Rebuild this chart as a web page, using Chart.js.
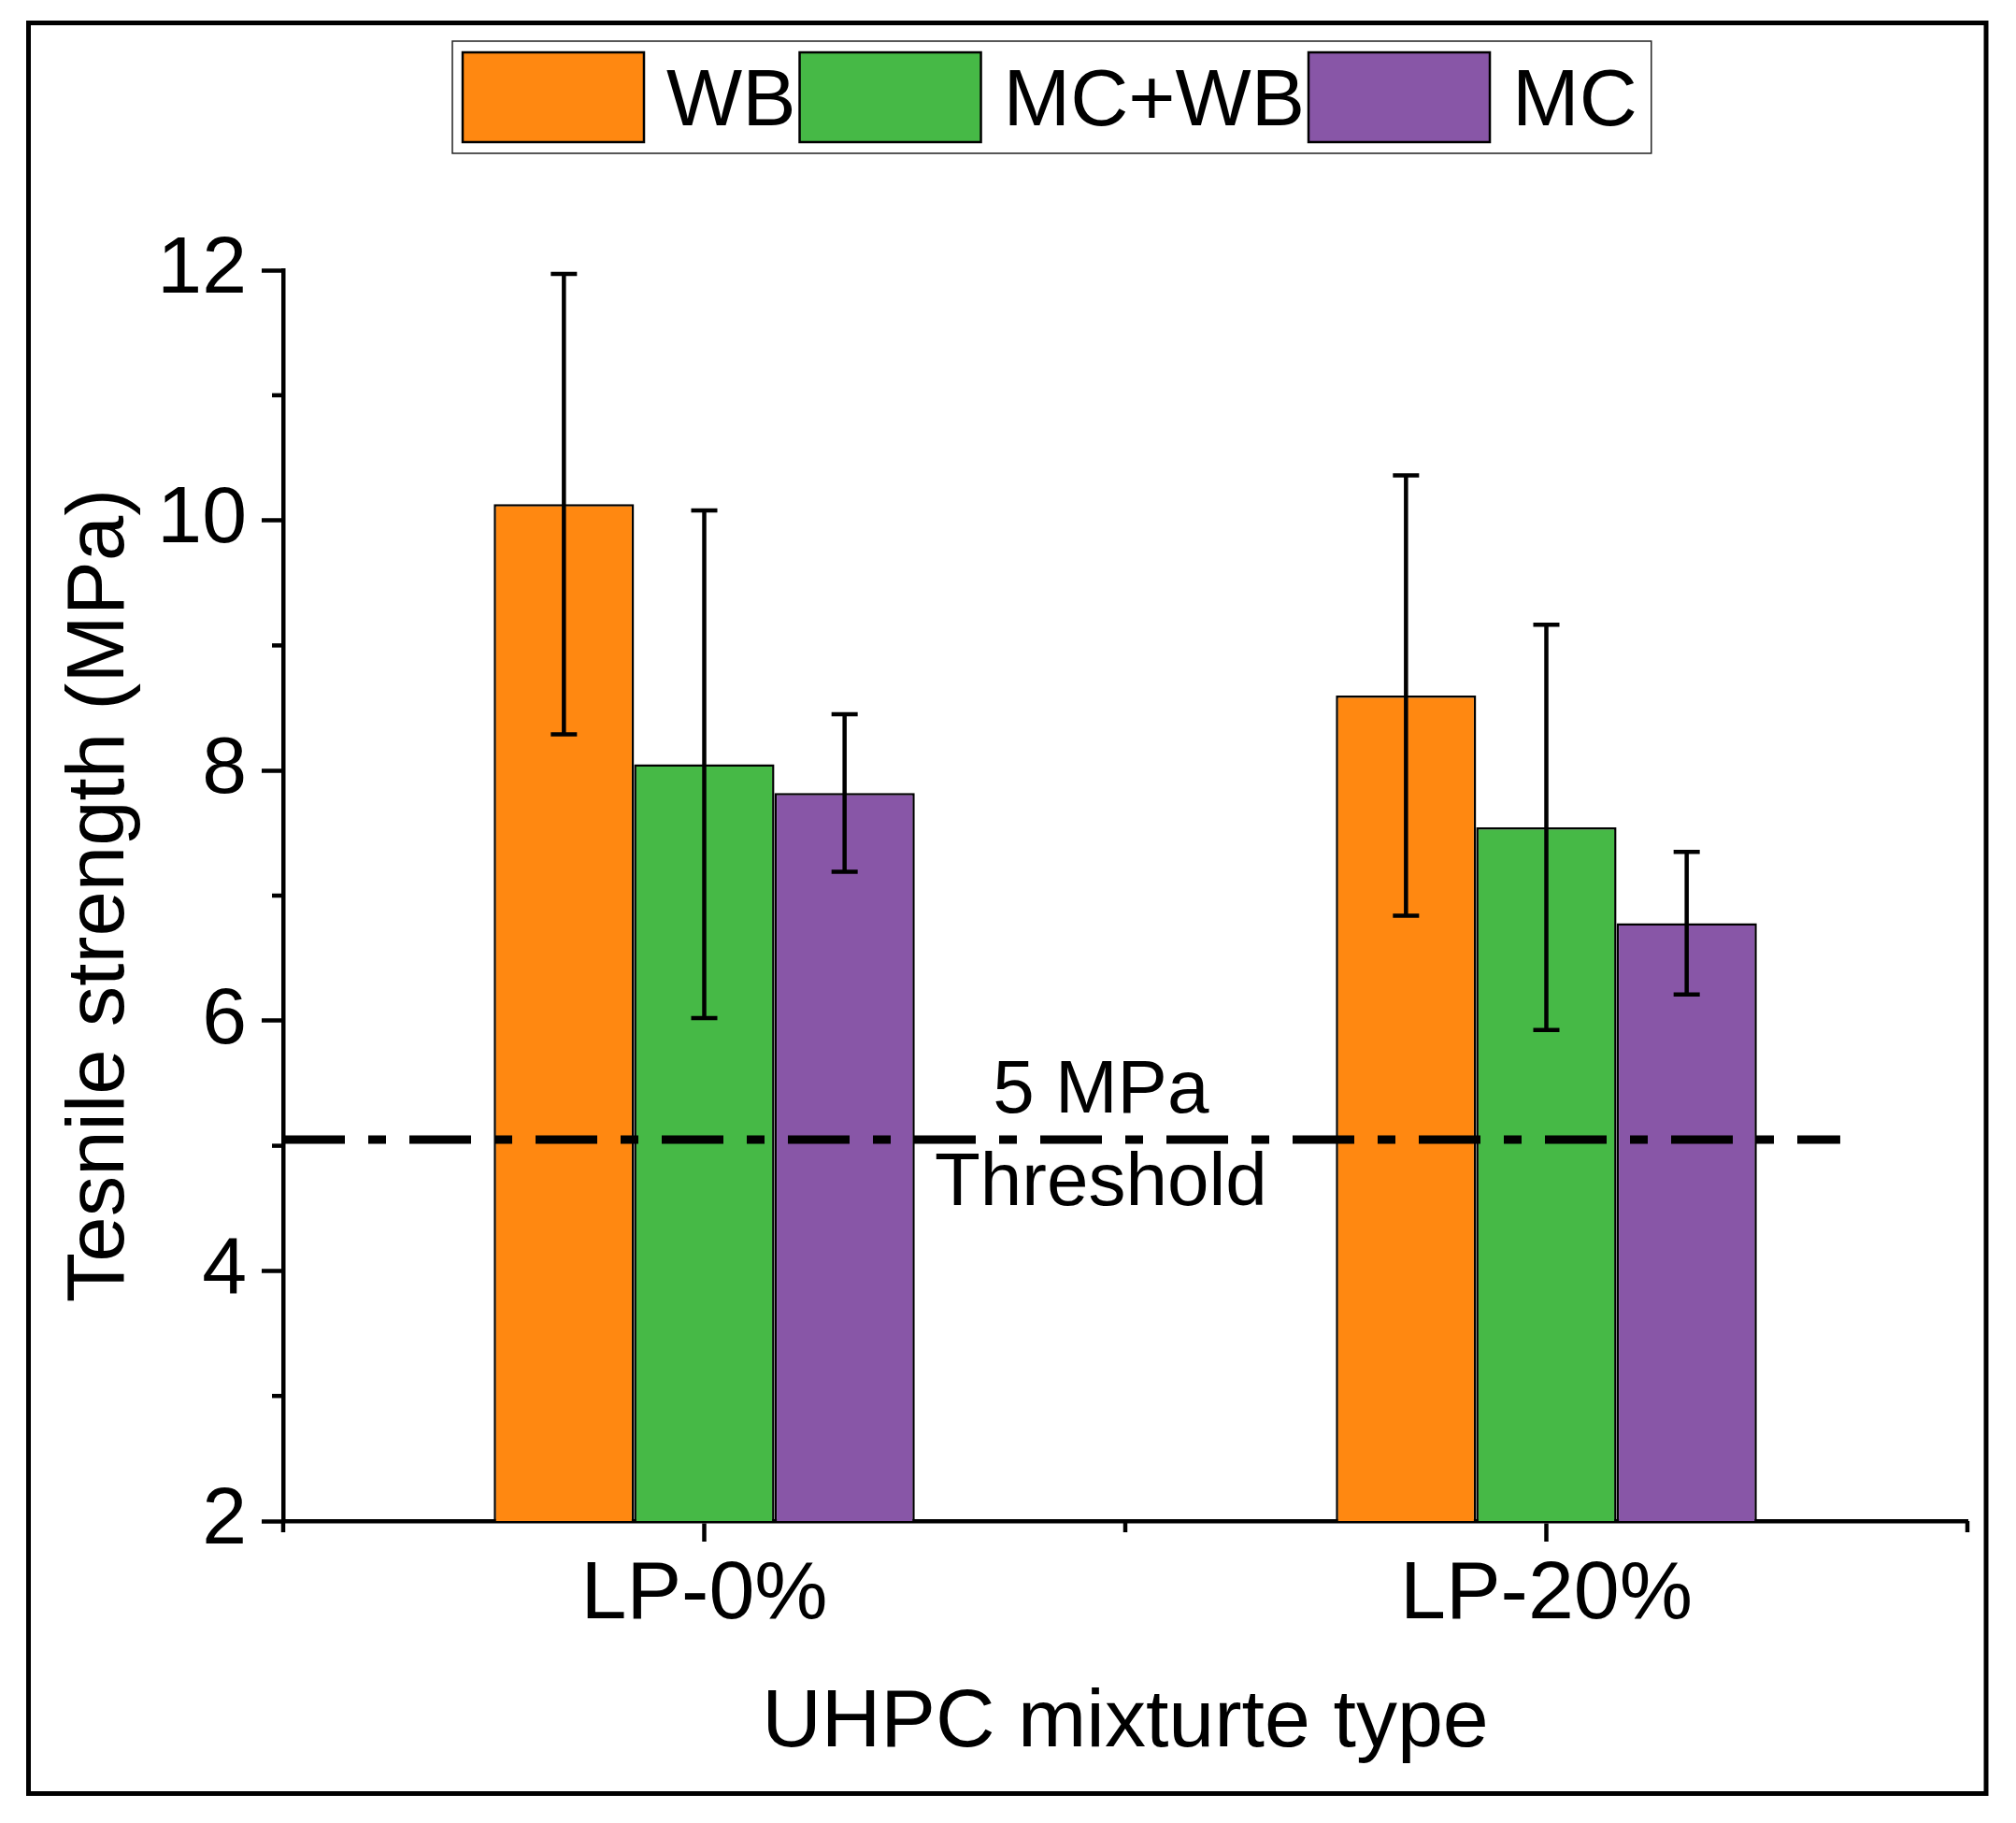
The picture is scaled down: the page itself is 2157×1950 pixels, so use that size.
<!DOCTYPE html>
<html>
<head>
<meta charset="utf-8">
<script src="https://cdn.jsdelivr.net/npm/chart.js@4.4.1/dist/chart.umd.min.js"></script>
<style>
  html, body { margin: 0; padding: 0; background: #ffffff; }
  #wrap { width: 2157px; height: 1950px; }
</style>
</head>
<body>
<div id="wrap"><canvas id="c" width="2157" height="1950"></canvas></div>
<script>
// ---------- data ----------
const categories = ['LP-0%', 'LP-20%'];
const seriesNames = ['WB', 'MC+WB', 'MC'];
const wbValues   = [10.13, 8.60];
const mcwbValues = [8.05, 7.545];
const mcValues   = [7.82, 6.78];
const wbSD   = [1.84, 1.76];
const mcwbSD = [2.03, 1.62];
const mcSD   = [0.63, 0.57];
const yMin = 2, yMax = 12, yStep = 2;
const thresholdValue = 5.05;
const thresholdSpan = [-0.5, 1.349];      // category-axis extent of the threshold line
const thresholdLabelAt = 0.471;           // category-axis position of the label
const thresholdLabels = ['5 MPa', 'Threshold'];
const xTitle = 'UHPC mixturte type';
const yTitle = 'Tesnile strength (MPa)';

// ---------- style ----------
const FONT = "'Liberation Sans', Arial, Helvetica, sans-serif";
const colors = ['#FF8811', '#46B946', '#8856A7'];
const values = [wbValues, mcwbValues, mcValues];
const sds = [wbSD, mcwbSD, mcSD];

Chart.defaults.font.family = FONT;
Chart.defaults.color = '#000';

const frameAndLegend = {
  id: 'frameAndLegend',
  afterDraw(chart) {
    const ctx = chart.ctx;
    ctx.save();
    // outer frame
    ctx.strokeStyle = '#000';
    ctx.lineWidth = 5;
    ctx.strokeRect(30.5, 24.5, 2094.5, 1894);
    // legend
    const boxL = 484, boxT = 44, boxH = 120;
    const swW = 194, swH = 96, swT = 56, textGap = 24, itemGap = 4, padL = 11, padR = 15;
    ctx.font = '86px ' + FONT;
    let x = boxL + padL;
    const items = chart.data.datasets.map(d => ({label: d.label, color: d.backgroundColor}));
    const pos = [];
    items.forEach((it, i) => {
      const tw = ctx.measureText(it.label).width;
      pos.push({x, tx: x + swW + textGap, tw});
      x += swW + textGap + tw + (i < items.length - 1 ? itemGap : 0);
    });
    const boxR = x + padR;
    ctx.lineWidth = 1.5;
    ctx.strokeStyle = '#222';
    ctx.strokeRect(boxL, boxT, boxR - boxL, boxH);
    items.forEach((it, i) => {
      ctx.fillStyle = it.color;
      ctx.fillRect(pos[i].x, swT, swW, swH);
      ctx.lineWidth = 2.5;
      ctx.strokeStyle = '#000';
      ctx.strokeRect(pos[i].x, swT, swW, swH);
      ctx.fillStyle = '#000';
      ctx.textBaseline = 'alphabetic';
      ctx.textAlign = 'left';
      ctx.fillText(it.label, pos[i].tx, 134);
    });
    ctx.restore();
  }
};

const minorTicks = {
  id: 'minorTicks',
  afterDraw(chart) {
    const ctx = chart.ctx;
    const ys = chart.scales.y, xs = chart.scales.x;
    const area = chart.chartArea;
    ctx.save();
    ctx.strokeStyle = '#000';
    ctx.lineWidth = 4.5;
    ctx.lineCap = 'butt';
    const t = ys.ticks.map(k => k.value);
    for (let i = 0; i < t.length - 1; i++) {
      const py = ys.getPixelForValue((t[i] + t[i + 1]) / 2);
      ctx.beginPath();
      ctx.moveTo(area.left, py);
      ctx.lineTo(area.left - 12, py);
      ctx.stroke();
    }
    for (let i = 0; i <= categories.length; i++) {
      const px = xs.getPixelForValue(i - 0.5);
      ctx.beginPath();
      ctx.moveTo(px, area.bottom);
      ctx.lineTo(px, area.bottom + 12);
      ctx.stroke();
    }
    ctx.restore();
  }
};

const thresholdAndErrors = {
  id: 'thresholdAndErrors',
  afterDatasetsDraw(chart) {
    const ctx = chart.ctx;
    const ys = chart.scales.y, xs = chart.scales.x;
    ctx.save();
    // threshold line
    const ty = ys.getPixelForValue(thresholdValue);
    ctx.strokeStyle = '#000';
    ctx.lineWidth = 9;
    ctx.lineCap = 'butt';
    ctx.setLineDash([66, 25, 19, 25]);
    ctx.lineDashOffset = 0;
    ctx.beginPath();
    ctx.moveTo(xs.getPixelForValue(thresholdSpan[0]), ty);
    ctx.lineTo(xs.getPixelForValue(thresholdSpan[1]), ty);
    ctx.stroke();
    ctx.setLineDash([]);
    // labels
    const lx = xs.getPixelForValue(thresholdLabelAt);
    ctx.fillStyle = '#000';
    ctx.font = '80px ' + FONT;
    ctx.textAlign = 'center';
    ctx.textBaseline = 'alphabetic';
    ctx.fillText(thresholdLabels[0], lx, ty - 29);
    ctx.fillText(thresholdLabels[1], lx, ty + 70);
    // error bars
    ctx.lineWidth = 4.5;
    chart.data.datasets.forEach((ds, di) => {
      const meta = chart.getDatasetMeta(di);
      meta.data.forEach((el, i) => {
        const v = ds.data[i], sd = sds[di][i];
        const yh = ys.getPixelForValue(v + sd), yl = ys.getPixelForValue(v - sd);
        ctx.beginPath();
        ctx.moveTo(el.x, yh); ctx.lineTo(el.x, yl);
        ctx.moveTo(el.x - 14, yh); ctx.lineTo(el.x + 14, yh);
        ctx.moveTo(el.x - 14, yl); ctx.lineTo(el.x + 14, yl);
        ctx.stroke();
      });
    });
    ctx.restore();
  }
};

new Chart(document.getElementById('c'), {
  type: 'bar',
  data: {
    labels: categories,
    datasets: seriesNames.map((name, i) => ({
      label: name,
      data: values[i],
      backgroundColor: colors[i],
      borderColor: '#000',
      borderWidth: 2.5,
      borderSkipped: false,
      categoryPercentage: 0.5,
      barPercentage: 1.0
    }))
  },
  options: {
    responsive: false,
    devicePixelRatio: 1,
    animation: false,
    layout: { padding: { left: 30, right: 52, top: 289, bottom: 40 } },
    plugins: { legend: { display: false }, tooltip: { enabled: false } },
    scales: {
      x: {
        offset: true,
        grid: { display: true, drawOnChartArea: false, drawTicks: true, tickLength: 22,
                tickWidth: 4.5, tickColor: '#000', offset: false },
        border: { display: true, color: '#000', width: 4.5 },
        ticks: { font: { size: 88 }, padding: 5, color: '#000', maxRotation: 0 },
        title: { display: true, text: xTitle, font: { size: 88 }, color: '#000',
                 padding: { top: 0, bottom: 13 } },
        afterFit(s) { s.height = 283; }
      },
      y: {
        min: yMin, max: yMax,
        grid: { display: true, drawOnChartArea: false, drawTicks: true, tickLength: 23,
                tickWidth: 4.5, tickColor: '#000' },
        border: { display: true, color: '#000', width: 4.5 },
        ticks: { stepSize: yStep, font: { size: 86 }, padding: 16, color: '#000' },
        title: { display: true, text: yTitle, font: { size: 87 }, color: '#000',
                 padding: { top: 26, bottom: 0 } },
        afterFit(s) { s.width = 273; }
      }
    }
  },
  plugins: [thresholdAndErrors, minorTicks, frameAndLegend]
});
</script>
</body>
</html>
